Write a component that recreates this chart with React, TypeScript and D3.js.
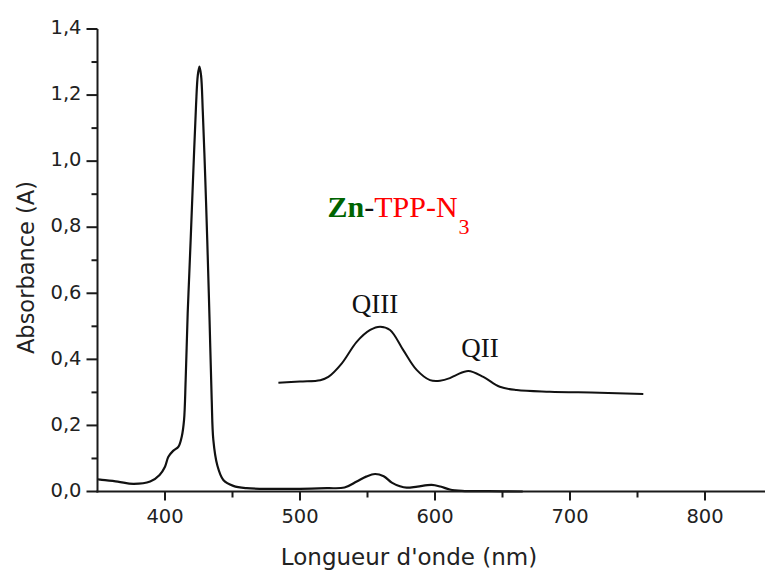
import React from "react";
import * as d3 from "d3";

// Main spectrum (wavelength in nm, absorbance)
const mainWavelength = [350, 352, 365, 376.5, 389, 396, 400, 402.5, 406, 410, 412.4, 414.1, 415.3, 416.8, 417.8, 419, 421, 423, 424.3, 425.5, 426.7, 428, 429.8, 431.3, 433, 434.6, 435.8, 438.7, 443.2, 450.6, 460.5, 480, 500, 520, 533, 542, 549, 555.6, 562, 568, 574, 579, 587, 597.5, 604, 611, 620, 640, 665];
const mainAbsorbance = [0.037, 0.036, 0.03, 0.023, 0.03, 0.05, 0.075, 0.105, 0.123, 0.136, 0.166, 0.216, 0.337, 0.539, 0.64, 0.761, 0.97, 1.17, 1.26, 1.286, 1.26, 1.15, 0.95, 0.761, 0.52, 0.278, 0.156, 0.08, 0.035, 0.017, 0.01, 0.008, 0.008, 0.01, 0.012, 0.03, 0.045, 0.053, 0.046, 0.027, 0.016, 0.0115, 0.015, 0.02, 0.015, 0.006, 0.002, 0.001, 0.0];

// Magnified Q-band inset, drawn in the same wavelength / absorbance frame
const insetWavelength = [484, 500, 515, 521, 531, 542, 552, 559.3, 566.7, 576.5, 586.4, 596.3, 603.7, 611, 616, 624.7, 635.8, 648, 660.5, 685, 722, 754.3];
const insetAbsorbance = [0.329, 0.333, 0.337, 0.347, 0.388, 0.453, 0.489, 0.499, 0.489, 0.428, 0.368, 0.337, 0.335, 0.343, 0.353, 0.365, 0.347, 0.317, 0.307, 0.302, 0.299, 0.295];

// Axis ticks
const xMajorTicks = [400, 500, 600, 700, 800];
const xMinorTicks = [450, 550, 650, 750];
const yMajorTicks = [0, 0.2, 0.4, 0.6, 0.8, 1.0, 1.2, 1.4];
const yMinorTicks = [0.1, 0.3, 0.5, 0.7, 0.9, 1.1, 1.3];

// Annotations
const bandLabels = [
  { text: "QIII", wl: 555.6, a: 0.54 },
  { text: "QII", wl: 633.3, a: 0.407 },
];
const titleAnchor = { wl: 520.4, a: 0.832 };

const xLabel = "Longueur d'onde (nm)";
const yLabel = "Absorbance (A)";

export default function App() {
  const W = 765;
  const H = 572;
  const x = d3.scaleLinear().domain([350, 850]).range([97.5, 772.5]);
  const y = d3.scaleLinear().domain([0, 1.4]).range([491.5, 29]);

  const line = d3
    .line<number>()
    .x((_, i) => x(mainWavelength[i]))
    .y((d) => y(d))
    .curve(d3.curveCatmullRom.alpha(0.5));
  const insetLine = d3
    .line<number>()
    .x((_, i) => x(insetWavelength[i]))
    .y((d) => y(d))
    .curve(d3.curveCatmullRom.alpha(0.5));

  const sans = "'DejaVu Sans', sans-serif";
  const serif = "'Liberation Serif', 'Times New Roman', serif";
  const axisColor = "#1a1a1a";

  const fmt = (v: number) => v.toFixed(1).replace(".", ",");

  return (
    <svg
      width={W}
      height={H}
      style={{ position: "absolute", left: 0, top: 0, background: "#fff" }}
    >
      <rect x={0} y={0} width={W} height={H} fill="#fff" />
      {/* curves */}
      <path
        d={line(mainAbsorbance) || ""}
        fill="none"
        stroke="#111"
        strokeWidth={2.2}
        strokeLinejoin="round"
      />
      <path
        d={insetLine(insetAbsorbance) || ""}
        fill="none"
        stroke="#111"
        strokeWidth={2}
        strokeLinejoin="round"
      />

      {/* y axis */}
      <line x1={x(350)} x2={x(350)} y1={y(1.4)} y2={y(0) + 1} stroke={axisColor} strokeWidth={2} />
      {yMajorTicks.map((t) => (
        <g key={"ym" + t}>
          <line x1={x(350) - 11} x2={x(350)} y1={y(t)} y2={y(t)} stroke={axisColor} strokeWidth={2} />
          <text
            x={x(350) - 16}
            y={y(t)}
            dy="0.27em"
            textAnchor="end"
            fontFamily={sans}
            fontSize={19.5}
            fill="#222"
          >
            {fmt(t)}
          </text>
        </g>
      ))}
      {yMinorTicks.map((t) => (
        <line key={"yn" + t} x1={x(350) - 6} x2={x(350)} y1={y(t)} y2={y(t)} stroke={axisColor} strokeWidth={2} />
      ))}

      {/* x axis */}
      <line x1={x(350) - 1} x2={W} y1={y(0)} y2={y(0)} stroke={axisColor} strokeWidth={2} />
      {xMajorTicks.map((t) => (
        <g key={"xm" + t}>
          <line x1={x(t)} x2={x(t)} y1={y(0)} y2={y(0) + 9} stroke={axisColor} strokeWidth={2} />
          <text
            x={x(t)}
            y={523}
            textAnchor="middle"
            fontFamily={sans}
            fontSize={19.5}
            fill="#222"
          >
            {t}
          </text>
        </g>
      ))}
      {xMinorTicks.map((t) => (
        <line key={"xn" + t} x1={x(t)} x2={x(t)} y1={y(0)} y2={y(0) + 6} stroke={axisColor} strokeWidth={2} />
      ))}

      {/* axis titles */}
      <text
        x={409}
        y={565}
        textAnchor="middle"
        fontFamily={sans}
        fontSize={23}
        fill="#222"
      >
        {xLabel}
      </text>
      <text
        transform={`translate(34, 267.5) rotate(-90)`}
        textAnchor="middle"
        fontFamily={sans}
        fontSize={22.5}
        fill="#222"
      >
        {yLabel}
      </text>

      {/* band labels */}
      {bandLabels.map((b) => (
        <text
          key={b.text}
          x={x(b.wl)}
          y={y(b.a)}
          textAnchor="middle"
          fontFamily={serif}
          fontSize={27}
          fill="#111"
        >
          {b.text}
        </text>
      ))}

      {/* compound title */}
      <text x={x(titleAnchor.wl)} y={y(titleAnchor.a)} fontFamily={serif} fontSize={30}>
        <tspan fill="#006400" fontWeight="bold">Zn</tspan>
        <tspan fill="#111">-</tspan>
        <tspan fill="#ff0000">TPP-N</tspan>
        <tspan fill="#ff0000" fontSize={22} dy={17} dx={1}>3</tspan>
      </text>
    </svg>
  );
}
